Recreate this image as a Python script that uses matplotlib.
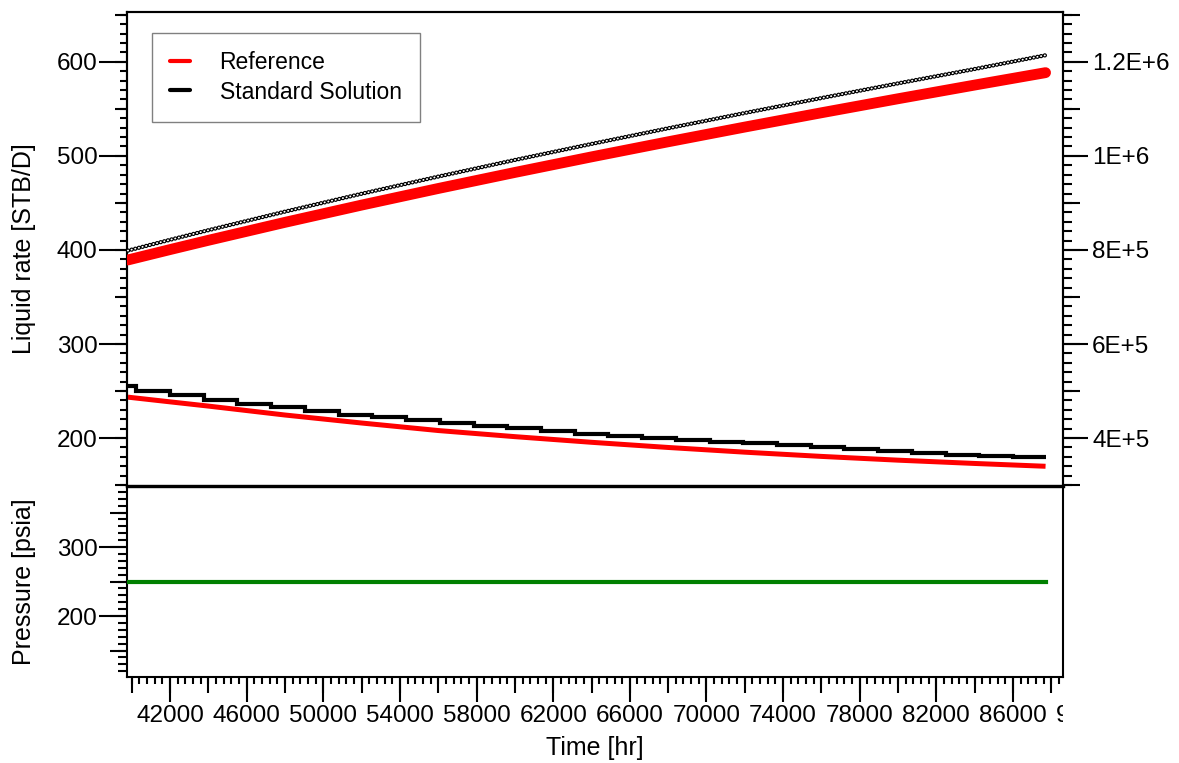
import numpy as np
import matplotlib
matplotlib.use('Agg')
import matplotlib.pyplot as plt
from matplotlib.lines import Line2D
from matplotlib.ticker import MultipleLocator, FuncFormatter, NullFormatter
from matplotlib.transforms import blended_transform_factory, ScaledTranslation, Bbox, TransformedBbox

plt.rcParams['font.family'] = ['Liberation Sans', 'DejaVu Sans']
plt.rcParams['lines.scale_dashes'] = False

# Time samples [hr] for the smooth curves
time_hr = [39800, 42000, 44000, 48000, 52000, 56000, 60000, 64000,
           68000, 72000, 76000, 80000, 84000, 87700]
# Reference liquid rate [STB/D]
ref_rate = [243.5, 238.5, 234.0, 224.5, 216.0, 208.0, 201.5, 195.5,
            190.0, 185.0, 180.5, 176.5, 173.0, 170.0]
# Cumulative liquid (right axis)
ref_cum = [778700, 800800, 820500, 858700, 895400, 930700, 964800, 997900,
           1030000, 1061300, 1091700, 1121500, 1150600, 1177000]
std_cum = [798600, 821600, 842000, 881500, 919500, 956000, 991300, 1025400,
           1058700, 1091200, 1123000, 1154200, 1184700, 1214000]

# Standard solution rate is piecewise constant
std_edges = [39800, 40240, 42000, 43760, 45520, 47280, 49040, 50800, 52560,
             54320, 56080, 57840, 59600, 61360, 63120, 64880, 66640, 68400,
             70160, 71920, 73680, 75440, 77200, 78960, 80720, 82480, 84240,
             86000, 87700]
std_rate = [255.0, 250.4, 245.4, 240.4, 236.5, 233.0, 229.0, 224.8, 222.0,
            218.8, 215.8, 212.8, 210.3, 207.4, 204.6, 202.5, 200.0, 197.9,
            196.0, 194.5, 192.8, 190.8, 188.3, 186.2, 184.4, 182.2, 180.9,
            179.5]

press_time = [39800, 87700]
press_psia = [250, 250]

TICK_FS = 17.5
LABEL_FS = 18
LW = 1.5


def sci_label(v, pos):
    if v <= 0:
        return ''
    exp = int(np.floor(np.log10(v) + 1e-9))
    mant = round(v / 10 ** exp, 3)
    return '%gE+%d' % (mant, exp)


def medium_ticks(ax, side, base, length):
    # third tick level (between major and minor)
    if side in ('left', 'right'):
        sec = ax.secondary_yaxis(side)
        sec.yaxis.set_major_locator(MultipleLocator(base))
        sec.yaxis.set_major_formatter(NullFormatter())
        sec.tick_params(axis='y', length=length, width=LW, direction='out')
    else:
        sec = ax.secondary_xaxis(side)
        sec.xaxis.set_major_locator(MultipleLocator(base))
        sec.xaxis.set_major_formatter(NullFormatter())
        sec.tick_params(axis='x', length=length, width=LW, direction='out')
    for s in sec.spines.values():
        s.set_visible(False)
    return sec


fig = plt.figure(figsize=(11.79, 7.63), dpi=100)
ax_p = fig.add_axes([0.108, 0.1127, 0.7936, 0.2503])
ax_r = fig.add_axes([0.108, 0.3630, 0.7936, 0.6213], sharex=ax_p)
ax_c = ax_r.twinx()

# lower curves: rates
ax_r.plot(time_hr, ref_rate, color='#ff0000', lw=3.6, solid_capstyle='butt', zorder=3)
ax_r.stairs(std_rate, std_edges, color='black', lw=3.0, baseline=None, zorder=4)

# upper curves: cumulative
ax_c.plot(time_hr, ref_cum, color='#ff0000', lw=7.8, solid_capstyle='round', zorder=3)
# chain of small open circles: round-capped tiny dashes, hollowed by a thinner white copy
ax_c.plot(time_hr, std_cum, color='black', lw=3.1, dashes=(0.15, 2.55),
          dash_capstyle='round', zorder=4)
ax_c.plot(time_hr, std_cum, color='white', lw=1.35, dashes=(0.15, 2.55),
          dash_capstyle='round', zorder=5)

# pressure
ax_p.plot(press_time, press_psia, color='#008000', lw=3.0, zorder=3)

# limits
ax_p.set_xlim(39770, 88610)
ax_r.set_ylim(149, 653)
ax_c.set_ylim(298000, 1306000)
ax_p.set_ylim(111.6, 388.4)

# ticks: rate axis
ax_r.yaxis.set_major_locator(MultipleLocator(100))
ax_r.yaxis.set_minor_locator(MultipleLocator(10))
ax_r.tick_params(axis='y', which='major', length=20, width=LW, labelsize=TICK_FS, pad=1.5)
ax_r.tick_params(axis='y', which='minor', length=5, width=LW)
ax_r.tick_params(axis='x', which='both', bottom=False, labelbottom=False)
medium_ticks(ax_r, 'left', 50, 9)

# ticks: cumulative axis
ax_c.yaxis.set_major_locator(MultipleLocator(200000))
ax_c.yaxis.set_minor_locator(MultipleLocator(20000))
ax_c.yaxis.set_major_formatter(FuncFormatter(sci_label))
ax_c.tick_params(axis='y', which='major', length=18, width=LW, labelsize=TICK_FS, pad=3)
ax_c.tick_params(axis='y', which='minor', length=6.5, width=LW)
medium_ticks(ax_c, 'right', 100000, 12)

# ticks: pressure axis
ax_p.yaxis.set_major_locator(MultipleLocator(100))
ax_p.yaxis.set_minor_locator(MultipleLocator(10))
ax_p.tick_params(axis='y', which='major', length=20, width=LW, labelsize=TICK_FS, pad=1.5)
ax_p.tick_params(axis='y', which='minor', length=6.5, width=LW)
medium_ticks(ax_p, 'left', 50, 12)

# ticks: time axis
ax_p.xaxis.set_major_locator(MultipleLocator(4000, offset=2000))
ax_p.xaxis.set_minor_locator(MultipleLocator(400))
ax_p.xaxis.set_major_formatter(FuncFormatter(lambda v, p: '%d' % round(v)))
ax_p.tick_params(axis='x', which='major', length=18, width=LW, labelsize=TICK_FS, pad=2.5)
ax_p.tick_params(axis='x', which='minor', length=5, width=LW)
medium_ticks(ax_p, 'bottom', 2000, 11.5)

# the next time label past the right edge shows only its first digit
x0, x1 = ax_p.get_xlim()
over = [v for v in ax_p.xaxis.get_major_locator().tick_values(x0, x1 + 4000) if v > x1]
if over:
    trans = blended_transform_factory(ax_p.transData, ax_p.transAxes) + \
        ScaledTranslation(0, -(18 + 2.5) / 72, fig.dpi_scale_trans)
    t = fig.text(over[0], 0, '%d' % round(over[0]), transform=trans, ha='center', va='top',
                 fontsize=TICK_FS, clip_on=True)
    pos = ax_p.get_position()
    t.set_clip_box(TransformedBbox(Bbox([[0, 0], [pos.x1, 1]]), fig.transFigure))

for ax in (ax_p, ax_r, ax_c):
    for s in ax.spines.values():
        s.set_linewidth(LW)
# the divider between the two panels is drawn heavier
ax_r.spines['bottom'].set_linewidth(2.3)
ax_c.spines['bottom'].set_linewidth(2.3)

# labels
ax_r.set_ylabel('Liquid rate [STB/D]', fontsize=LABEL_FS)
ax_p.set_ylabel('Pressure [psia]', fontsize=LABEL_FS)
ax_p.set_xlabel('Time [hr]', fontsize=LABEL_FS)
ax_r.yaxis.set_label_coords(-0.0976, 0.5)
ax_p.yaxis.set_label_coords(-0.0976, 0.5)
ax_p.xaxis.set_label_coords(0.5, -0.31)

# legend
handles = [Line2D([], [], color='#ff0000', lw=3, solid_capstyle='round'),
           Line2D([], [], color='black', lw=3, solid_capstyle='round')]
leg = ax_c.legend(handles, ['Reference', 'Standard Solution'], loc='upper left',
                  bbox_to_anchor=(152 / 1179, 1 - 33 / 763), bbox_transform=fig.transFigure,
                  borderaxespad=0, fontsize=16.5, fancybox=False, edgecolor='#808080',
                  framealpha=1, handlelength=0.85, handletextpad=1.3, borderpad=0.8,
                  labelspacing=0.27)
leg.get_frame().set_linewidth(1.0)

fig.savefig('out.png', dpi=100)
